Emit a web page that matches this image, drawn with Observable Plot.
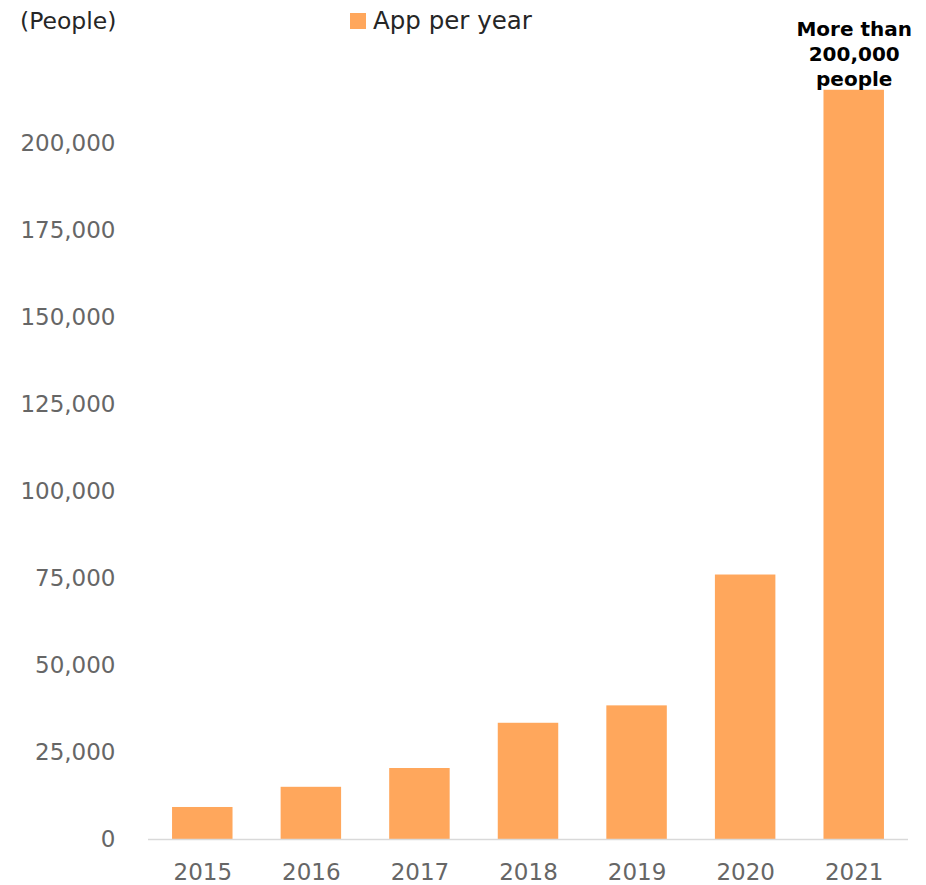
<!DOCTYPE html>
<html>
<head>
<meta charset="utf-8">
<script src="https://cdn.jsdelivr.net/npm/d3@7"></script>
<script src="https://cdn.jsdelivr.net/npm/@observablehq/plot@0.6"></script>
<style>
  html, body { margin: 0; padding: 0; background: #fff; }
  body { position: relative; width: 926px; height: 885px; font-family: "DejaVu Sans", Verdana, sans-serif; }
  #unit { position: absolute; left: 20px; top: 7px; font-size: 23.5px; color: #262626; line-height: 28px; }
  #legend { position: absolute; left: 350px; top: 7px; font-size: 24.5px; color: #262626; line-height: 28px; display: flex; align-items: center; }
  #legend .sw { width: 16px; height: 16px; margin-right: 7px; }
  #chart { position: absolute; left: 0; top: 0; }
</style>
</head>
<body>
<div id="chart"></div>
<div id="unit"></div>
<div id="legend"><span class="sw"></span><span class="lbl"></span></div>
<script>
const years = ["2015", "2016", "2017", "2018", "2019", "2020", "2021"];
const apps = [9200, 15000, 20400, 33400, 38400, 76000, 215300];
const yTicks = [0, 25000, 50000, 75000, 100000, 125000, 150000, 175000, 200000];
const seriesName = "App per year";
const unitLabel = "(People)";
const annotation = "More than\n200,000\npeople";
const annotationYear = "2021";
const barColor = "#ffa75c";

const data = years.map((y, i) => ({year: y, value: apps[i]}));

document.getElementById("unit").textContent = unitLabel;
document.querySelector("#legend .lbl").textContent = seriesName;
document.querySelector("#legend .sw").style.background = barColor;

const chart = Plot.plot({
  width: 926,
  height: 885,
  marginLeft: 148,
  marginRight: 18,
  marginTop: 56,
  marginBottom: 46,
  style: {fontFamily: "DejaVu Sans, Verdana, sans-serif", fontSize: "23px", color: "#595959", overflow: "visible"},
  x: {domain: years, paddingInner: 0.443, paddingOuter: 0.2215, round: false, label: null},
  y: {domain: [0, 225000], label: null},
  marks: [
    Plot.barY(data, {x: "year", y: "value", fill: barColor}),
    Plot.ruleY([0], {stroke: "#d9d9d9", strokeWidth: 1.5}),
    Plot.axisY({ticks: yTicks, tickFormat: d3.format(","), tickSize: 0, tickPadding: 33, label: null, fill: "#666666"}),
    Plot.axisX({tickSize: 0, tickPadding: 24, label: null, fill: "#666666"}),
    Plot.text(data.filter(d => d.year === annotationYear), {
      x: "year", y: "value", text: () => annotation,
      lineAnchor: "bottom", lineHeight: 1.25, dy: -4,
      fontSize: 20, fontWeight: "bold", fill: "#000"
    })
  ]
});
document.getElementById("chart").appendChild(chart);
</script>
</body>
</html>
